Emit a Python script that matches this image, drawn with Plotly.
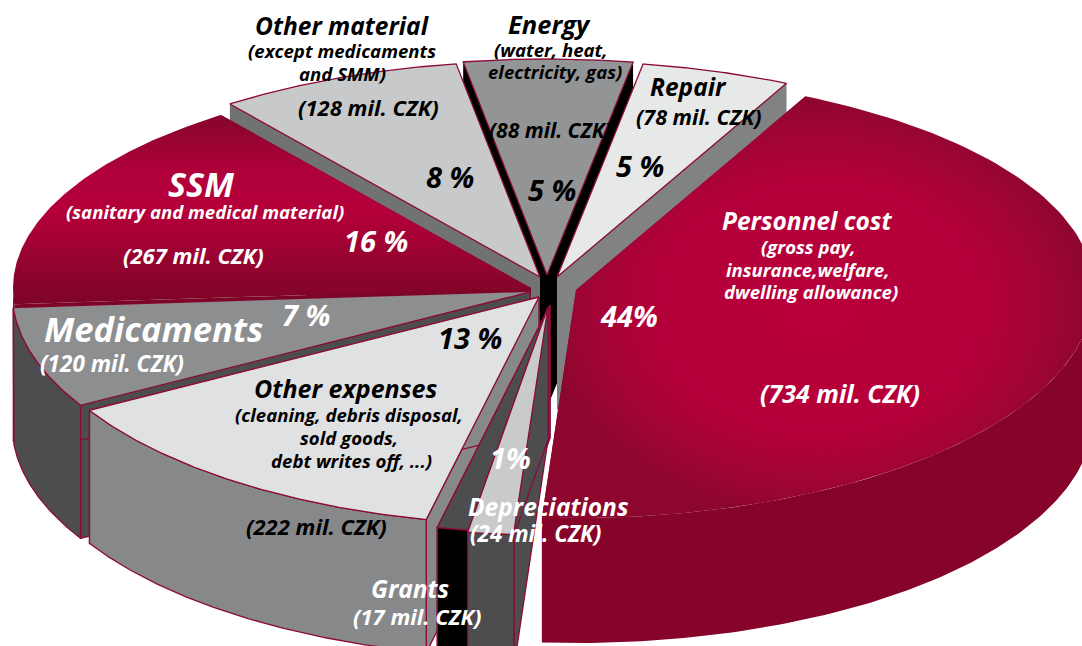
import numpy as np
import plotly.graph_objects as go

# ---- data (clockwise from the Personnel slice) ----
slice_names = ["Personnel cost", "Depreciations", "Grants", "Other expenses", "Medicaments",
               "SSM", "Other material", "Energy", "Repair"]
slice_values = [734, 24, 17, 222, 120, 267, 128, 88, 78]
slice_percent = ["44%", "1%", "", "13 %", "7 %", "16 %", "8 %", "5 %", "5 %"]

# ---- projection settings ----
W, H = 1082, 646
START_DEG = 26.3
RX, RY_BACK, RY_FRONT = 518, 216, 228
CX, CY = 550, 285
DEPTH = 133
LINE = "#8b0a36"
# explosion offset of each slice, from the pie centre
explode = {"Personnel cost": (26, 5), "Depreciations": (-2, 22), "Grants": (0, 20),
           "Other expenses": (-11, 12), "Medicaments": (-20, 7), "SSM": (-19, 3),
           "Other material": (-10, -8), "Energy": (-3, -10), "Repair": (7, -8)}
style = {
    "Personnel cost": dict(top="#b5003a", wall="#860429", rim="#860429", outline=False, depth=125,
                           grad=dict(type="radial", colorscale=[[0, "#b8003b"], [0.6, "#b4003a"], [0.85, "#9e0534"], [1, "#8c062e"]])),
    "Depreciations": dict(top="#c9cacc", wall="#4d4d4f", rim="#4d4d4f", outline=True),
    "Grants": dict(top="#4d4d4f", wall="#4d4d4f", rim="#000000", outline=True),
    "Other expenses": dict(top="#e0e1e3", wall="#87888a", rim="#87888a", outline=True),
    "Medicaments": dict(top="#8d8e90", wall="#4d4d4f", rim="#4d4d4f", outline="start_arc"),
    "SSM": dict(top="#b5003a", wall="#7d0527", rim="#7d0527", outline=False,
                grad=dict(type="vertical", colorscale=[[0, "#7d0527"], [0.5, "#b5003a"], [0.7, "#b0003a"], [1, "#85062b"]])),
    "Other material": dict(top="#c8c9cb", wall="#707274", rim="#707274", outline=True),
    "Energy": dict(top="#939496", wall="#000000", rim="#000000", outline=True),
    "Repair": dict(top="#e7e8e8", wall="#808284", rim="#808284", outline=True),
}
draw_order = ["Energy", "Other material", "Repair", "SSM", "Medicaments", "Other expenses",
              "Grants", "Depreciations", "Personnel cost"]


def rim_xy(theta, ax, ay):
    ry = np.where(np.cos(theta) > 0, RY_BACK, RY_FRONT)
    return ax + RX * np.sin(theta), ay - ry * np.cos(theta)


fractions = np.array(slice_values) / sum(slice_values)
edges = np.radians(START_DEG + 360 * np.concatenate([[0], np.cumsum(fractions)]))
fig = go.Figure()


def poly(xs, ys, color, line=False, grad=None):
    kw = dict(x=list(xs), y=list(ys), mode="lines", fill="toself", hoverinfo="skip", showlegend=False,
              line=dict(color=LINE if line else color, width=1.3 if line else 0))
    if grad:
        kw["fillgradient"] = grad
    else:
        kw["fillcolor"] = color
    fig.add_trace(go.Scatter(**kw))


for name in draw_order:
    i = slice_names.index(name)
    s = style[name]
    d = s.get("depth", DEPTH)
    a0, a1 = edges[i], edges[i + 1]
    ax, ay = CX + explode[name][0], CY + explode[name][1]
    th = np.linspace(a0, a1, 120)
    rx_, ry_ = rim_xy(th, ax, ay)
    has_line = s["outline"] is True
    # cut walls
    for e_x, e_y in ((rx_[0], ry_[0]), (rx_[-1], ry_[-1])):
        poly([ax, e_x, e_x, ax, ax], [ay, e_y, e_y + d, ay + d, ay], s["wall"],
             line=(name in ("Medicaments", "Other expenses", "Grants", "Depreciations")))
    # outer rim, front half only
    f0, f1 = max(a0 % (2 * np.pi), np.pi / 2), min(a0 % (2 * np.pi) + (a1 - a0), 3 * np.pi / 2)
    if f1 > f0:
        tf = np.linspace(f0, f1, 120)
        fx, fy = rim_xy(tf, ax, ay)
        poly(np.r_[fx, fx[::-1], fx[0]], np.r_[fy, fy[::-1] + d, fy[0]], s["rim"], line=s["outline"] is not False)
    # top face
    poly(np.r_[ax, rx_, ax], np.r_[ay, ry_, ay], s["top"], line=has_line, grad=s.get("grad"))
    if s["outline"] == "start_arc":
        fig.add_trace(go.Scatter(x=list(np.r_[ax, rx_]), y=list(np.r_[ay, ry_]), mode="lines", hoverinfo="skip",
                                 showlegend=False, line=dict(color=LINE, width=1.3)))

FONT = "Open Sans"
SUB = 18.6
MIL = 22
PCT = 29
# text, x, y, size, colour
labels = [
    ("Other material", 342, 25, 24.5, "#000"), ("(except medicaments", 342, 50, SUB, "#000"), ("and SMM)", 342, 73, SUB, "#000"),
    ("(128 mil. CZK)", 368, 107, MIL, "#000"), ("8 %", 450, 176, PCT, "#000"),
    ("Energy", 549, 24, 25.5, "#000"), ("(water, heat,", 551, 49, SUB, "#000"), ("electricity, gas)", 555, 71, SUB, "#000"),
    ("(88 mil. CZK)", 550, 130, 21, "#000"), ("5 %", 552, 189, PCT, "#000"),
    ("Repair", 688, 86, 24.5, "#000"), ("(78 mil. CZK)", 699, 116, 21.5, "#000"), ("5 %", 640, 165, PCT, "#000"),
    ("Personnel cost", 807, 220, 24.5, "#fff"), ("(gross pay,", 808, 246, SUB, "#fff"), ("insurance,welfare,", 808, 269, SUB, "#fff"),
    ("dwelling allowance)", 811, 291, SUB, "#fff"), ("44%", 629, 315, PCT, "#fff"), ("(734 mil. CZK)", 840, 393, 25, "#fff"),
    ("SSM", 201, 184, 34, "#fff"), ("(sanitary and medical material)", 205, 211, SUB, "#fff"), ("(267 mil. CZK)", 193, 255, MIL, "#fff"), ("16 %", 376, 240, PCT, "#fff"),
    ("Medicaments", 153, 328, 34.5, "#fff"), ("(120 mil. CZK)", 112, 363, 22.5, "#fff"), ("7 %", 306, 314, PCT, "#fff"),
    ("Other expenses", 345, 388, 25, "#000"), ("(cleaning, debris disposal,", 349, 414, SUB, "#000"), ("sold goods,", 349, 437, SUB, "#000"),
    ("debt writes off, ...)", 351, 460, SUB, "#000"), ("13 %", 470, 337, PCT, "#000"), ("(222 mil. CZK)", 316, 526, MIL, "#000"),
    ("1%", 510, 457, PCT, "#fff"), ("Depreciations", 548, 506, 24.5, "#fff"), ("(24 mil. CZK)", 535, 533, 22.5, "#fff"),
    ("Grants", 410, 588, 24.5, "#fff"), ("(17 mil. CZK)", 417, 616, MIL, "#fff"),
]
annotations = [dict(x=x, y=y, text=f"<b><i>{t}</i></b>", showarrow=False, xref="x", yref="y", xanchor="center", yanchor="middle",
                    font=dict(family=FONT, size=sz, color=c)) for t, x, y, sz, c in labels]

fig.update_layout(
    width=W, height=H, margin=dict(l=0, r=0, t=0, b=0), paper_bgcolor="white", plot_bgcolor="white",
    xaxis=dict(range=[0, W], visible=False, fixedrange=True),
    yaxis=dict(range=[H, 0], visible=False, fixedrange=True),
    annotations=annotations, showlegend=False,
)
fig.write_html("out.html", config={"displayModeBar": False},
               post_script="document.body.style.margin='0';document.body.style.overflow='hidden';")
